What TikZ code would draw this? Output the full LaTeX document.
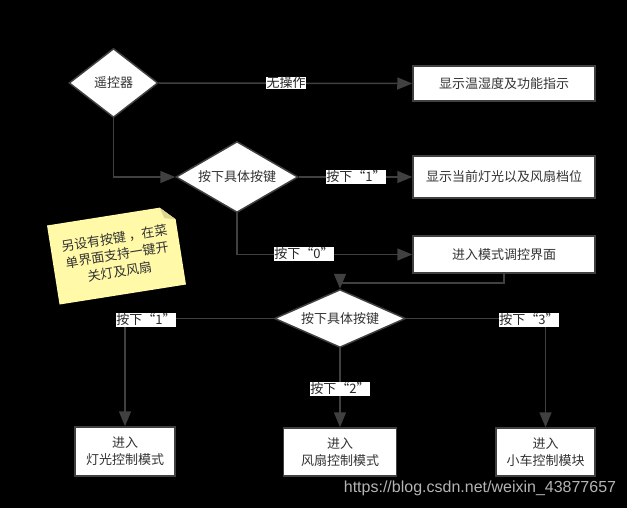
\documentclass[tikz,border=0pt]{standalone}
\usepackage{fontspec}
\setmainfont{Noto Sans CJK SC}
\newfontfamily\wmfont{Liberation Sans}
\usetikzlibrary{shapes.geometric,arrows.meta}
\definecolor{edgecol}{HTML}{404040}
\definecolor{txtcol}{HTML}{333333}
\definecolor{notefill}{HTML}{FFF9A8}
\definecolor{notefold}{HTML}{DCD690}
\definecolor{wmcol}{HTML}{B4B4B4}
\begin{document}
\begin{tikzpicture}[x=1pt,y=-1pt,
  cjk/.style={font=\fontsize{13}{17}\selectfont},
  boxnode/.style={cjk,rectangle,draw=edgecol,fill=white,line width=1.5pt,text=txtcol,align=center,inner sep=0pt},
  decision/.style={cjk,diamond,aspect=2,draw=edgecol,fill=white,line width=1.5pt,text=txtcol,inner sep=0pt},
  conn/.style={draw=edgecol,line width=1.5pt,-{Triangle[length=15pt,width=12pt]}},
  lbl/.style={cjk,fill=white,text=black!85,inner sep=0.5pt},
]
\fill[black] (0,0) rectangle (627,508);
\useasboundingbox (0,0) rectangle (627,508);

% decisions
\node[decision,minimum width=89pt,minimum height=69pt] (d1) at (113.5,83) {遥控器};
\node[decision,minimum width=122pt,minimum height=71pt] (d2) at (237,177) {按下具体按键};
\node[decision,minimum width=131pt,minimum height=58pt] (d3) at (340,318.5) {按下具体按键};

% boxes
\node[boxnode,minimum width=182pt,minimum height=35pt] (b1) at (504,83.5) {显示温湿度及功能指示};
\node[boxnode,minimum width=182pt,minimum height=42pt] (b2) at (504,177) {显示当前灯光以及风扇档位};
\node[boxnode,minimum width=182pt,minimum height=37pt] (b3) at (504,254.5) {进入模式调控界面};
\node[boxnode,minimum width=100pt,minimum height=49pt] (b4) at (125,451.5) {进入\\灯光控制模式};
\node[boxnode,minimum width=113pt,minimum height=48pt] (b5) at (340,452) {进入\\风扇控制模式};
\node[boxnode,minimum width=99pt,minimum height=48pt] (b6) at (545.5,452) {进入\\小车控制模块};

% connectors
\draw[conn] (d1.east) -- (b1.west);
\draw[conn] (d1.south) |- (d2.west);
\draw[conn] (d2.east) -- (b2.west);
\draw[conn] (d2.south) |- (b3.west);
\draw[conn] (b3.south) -- ++(0,9) -| (d3.north);
\draw[conn] (d3.west) -| (b4.north);
\draw[conn] (d3.south) -- (b5.north);
\draw[conn] (d3.east) -| (b6.north);

% labels
\node[lbl] (l1) at (286,83) {无操作};
\node[lbl] (l2) at (356,177) {按下“1”};
\node[lbl] (l3) at (304,254) {按下“0”};
\node[lbl] (l4) at (146,320) {按下“1”};
\node[lbl] (l5) at (340,389) {按下“2”};
\node[lbl] (l6) at (529,320) {按下“3”};

% sticky note
\begin{scope}[shift={(116.5,255)},rotate=9]
  \fill[notefill] (-64,-40) -- (50,-40) -- (64,-26) -- (64,40) -- (-64,40) -- cycle;
  \fill[notefold] (50,-40) -- (64,-26) -- (53,-29) -- cycle;
\end{scope}
\node[cjk,text=txtcol,align=center,rotate=9] (note) at (117,255) {另设有按键 ，在菜\\单界面支持一键开\\关灯及风扇};

% watermark
\node[text=wmcol,font=\wmfont\fontsize{16}{19}\selectfont] (wm) at (480,488) {https://blog.csdn.net/weixin\_43877657};
\end{tikzpicture}
\end{document}
